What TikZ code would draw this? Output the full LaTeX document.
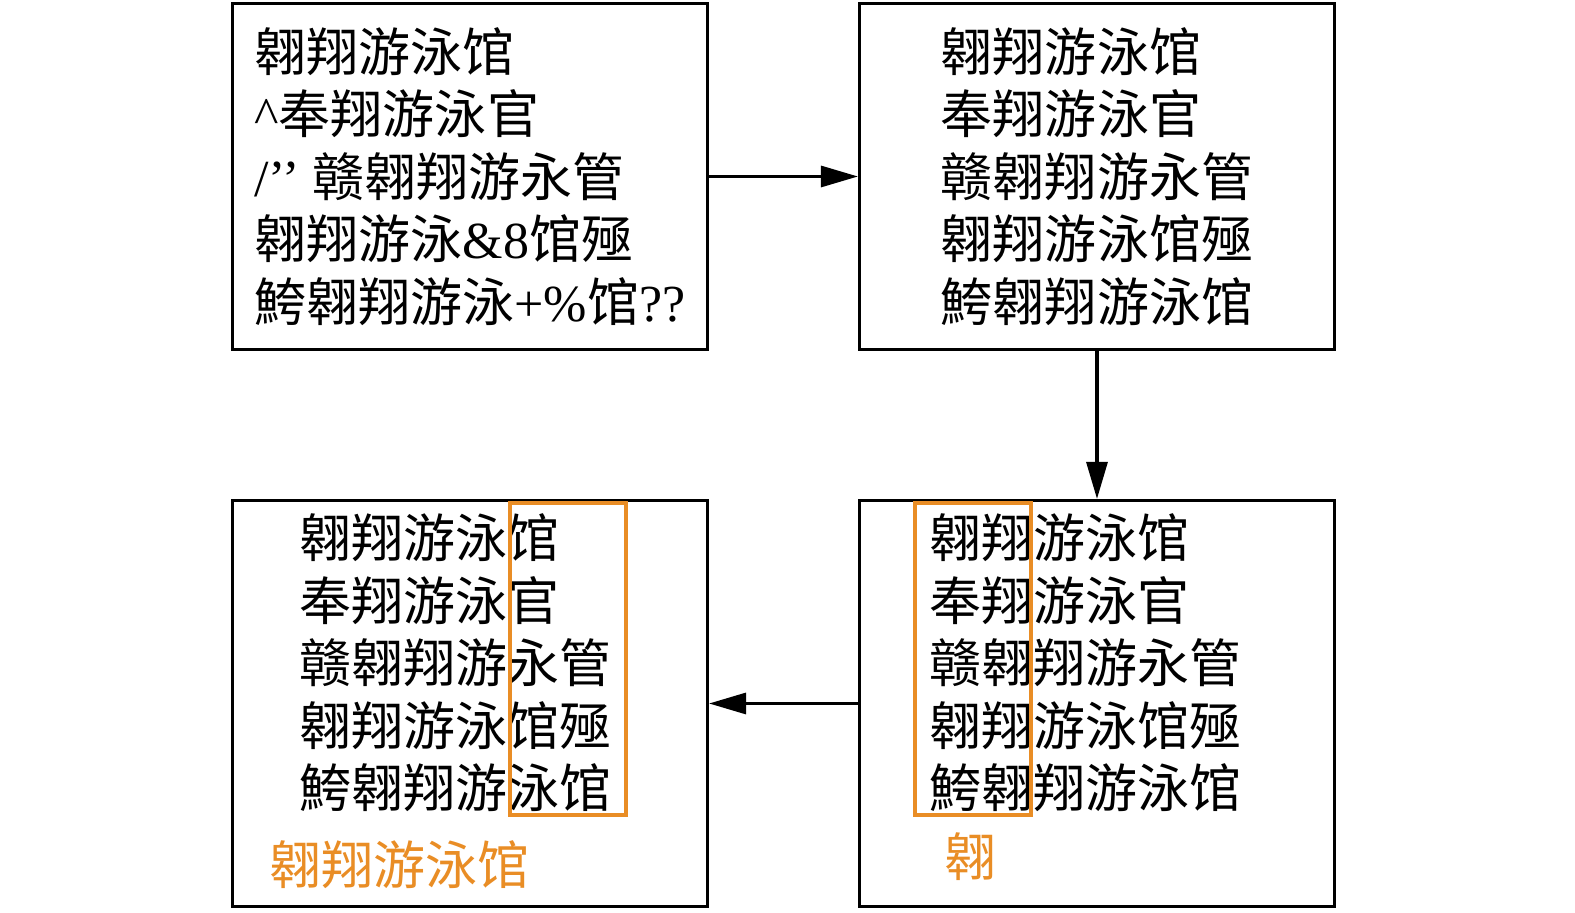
\documentclass[tikz,border=0pt]{standalone}
\usepackage{fontspec}
\setmainfont{Liberation Serif}
\newfontfamily\cjk{Noto Sans CJK SC}
\usetikzlibrary{arrows.meta}
\definecolor{hlorange}{RGB}{233,141,37}
\begin{document}
\begin{tikzpicture}[
  box/.style={draw, line width=0.9pt, inner sep=0pt, minimum width=4.75cm, align=left, font=\fontsize{14.8pt}{17.8pt}\selectfont},
  rows/.style={inner sep=0pt, anchor=west, align=left, font=\fontsize{14.8pt}{17.8pt}\selectfont},
  hl/.style={draw=hlorange, line width=0.9pt},
  flow/.style={line width=0.9pt, -{Triangle[length=3.7mm, width=2.1mm]}}
]
\useasboundingbox (0,0) rectangle (15.75,-9.13);
% raw rows
\node[box, minimum height=3.46cm] (box0) at (4.70,-1.765){{\cjk 翱翔游泳馆}\\
\textasciicircum{\cjk 奉翔游泳官}\\
/’’ {\cjk 赣翱翔游永管}\\
{\cjk 翱翔游泳}\&8{\cjk 馆殛}\\
{\cjk 鮬翱翔游泳}+\%{\cjk 馆}??};
% cleaned rows
\node[box, minimum height=3.46cm, font=\fontsize{14.8pt}{17.8pt}\cjk] (box1) at (10.97,-1.765){翱翔游泳馆\\
奉翔游泳官\\
赣翱翔游永管\\
翱翔游泳馆殛\\
鮬翱翔游泳馆};
\draw[flow](box0) -- (box1);
% first column
\node[box, minimum height=4.06cm] (box2) at (10.97,-7.035){};
\node[rows, font=\fontsize{14.8pt}{17.8pt}\cjk] (rows2) at (9.29,-6.63){翱翔游泳馆\\
奉翔游泳官\\
赣翱翔游永管\\
翱翔游泳馆殛\\
鮬翱翔游泳馆};
\draw[hl] (9.15,-5.03) rectangle (10.31,-8.15);
\node[rows, font=\fontsize{14.8pt}{17.8pt}\cjk, text=hlorange] (pick2) at (9.44,-8.57){翱};
\draw[flow](box1) -- (box2);
% last column
\node[box, minimum height=4.06cm] (box3) at (4.70,-7.035){};
\node[rows, font=\fontsize{14.8pt}{17.8pt}\cjk] (rows3) at (2.99,-6.63){翱翔游泳馆\\
奉翔游泳官\\
赣翱翔游永管\\
翱翔游泳馆殛\\
鮬翱翔游泳馆};
\draw[hl] (5.10,-5.03) rectangle (6.26,-8.15);
\node[rows, font=\fontsize{14.8pt}{17.8pt}\cjk, text=hlorange] (pick3) at (2.69,-8.65){翱翔游泳馆};
\draw[flow](box2) -- (box3);

\end{tikzpicture}
\end{document}
